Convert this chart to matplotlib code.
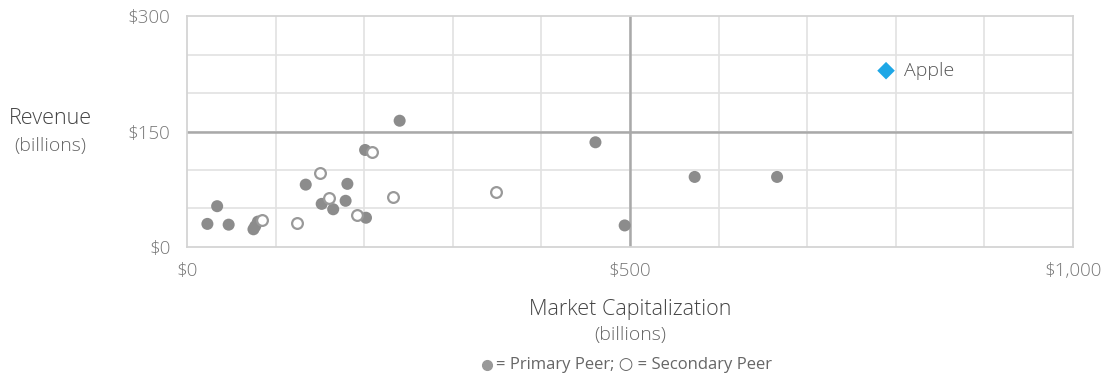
import matplotlib
matplotlib.use('Agg')
import matplotlib.pyplot as plt
from matplotlib.lines import Line2D

# Peer data (market cap, revenue), $ billions
primary_cap = [23, 34, 47, 75, 77, 80, 134, 152, 165, 179, 181, 201, 202, 240, 461, 494, 573, 666]
primary_rev = [30, 53, 29, 23, 27, 33, 81, 56, 49, 60, 82, 126, 38, 164, 136, 28, 91, 91]
secondary_cap = [85, 124, 150, 160, 192, 209, 232, 349]
secondary_rev = [35, 31, 96, 64, 42, 123, 65, 72]
apple_cap = [789]
apple_rev = [229]

x_ticks = [0, 500, 1000]
x_labels = ['$0', '$500', '$1,000']
y_ticks = [0, 150, 300]
y_labels = ['$0', '$150', '$300']

plt.rcParams['font.family'] = ['Open Sans', 'DejaVu Sans']
plt.rcParams['font.weight'] = 'light'

fig = plt.figure(figsize=(11.04, 3.83), dpi=100)
ax = fig.add_axes([0.1694, 0.3551, 0.8025, 0.6031])

# light grid every 100 / 50, darker quadrant lines at the midpoints
for gx in range(100, 1000, 100):
    ax.axvline(gx, color='#e2e2e2', lw=1.2, zorder=0)
for gy in range(50, 300, 50):
    ax.axhline(gy, color='#e2e2e2', lw=1.2, zorder=0)
ax.axvline(500, color='#a9a9a9', lw=1.8, zorder=1)
ax.axhline(150, color='#a9a9a9', lw=1.8, zorder=1)

ax.scatter(primary_cap, primary_rev, s=75, color='#8c8c8c', edgecolors='none', zorder=3)
ax.scatter(secondary_cap, secondary_rev, s=60, facecolors='white', edgecolors='#999999',
           linewidths=1.6, zorder=3)
ax.scatter(apple_cap, apple_rev, s=80, marker='D', color='#1ea7e6', edgecolors='none', zorder=4)
ax.text(apple_cap[0] + 20, apple_rev[0], 'Apple', fontsize=14, color='#555555', va='center')

ax.set_xlim(0, 1000)
ax.set_ylim(0, 300)
ax.set_xticks(x_ticks)
ax.set_xticklabels(x_labels)
ax.set_yticks(y_ticks)
ax.set_yticklabels(y_labels)
ax.tick_params(length=0, labelsize=13.5, labelcolor='#777777')
ax.tick_params(axis='x', pad=11)
ax.tick_params(axis='y', pad=12)
for sp in ax.spines.values():
    sp.set_color('#d4d4d4')
    sp.set_linewidth(1.3)

# axis titles
fig.text(50 / 1104, 1 - 119 / 383, 'Revenue', ha='center', va='center', fontsize=15.5, color='#444444')
fig.text(50 / 1104, 1 - 146 / 383, '(billions)', ha='center', va='center', fontsize=14, color='#666666')
fig.text(630 / 1104, 1 - 310 / 383, 'Market Capitalization', ha='center', va='center', fontsize=15.5,
         color='#444444')
fig.text(630 / 1104, 1 - 335 / 383, '(billions)', ha='center', va='center', fontsize=14, color='#666666')

# key line under the chart
fig.add_artist(Line2D([487 / 1104], [1 - 365 / 383], marker='o', markersize=7, color='#999999',
                      transform=fig.transFigure))
fig.text(496 / 1104, 1 - 365 / 383, '= Primary Peer; \u25cb = Secondary Peer', ha='left', va='center',
         fontsize=12, fontweight='normal', color='#666666')

fig.savefig('out.png', dpi=100)
